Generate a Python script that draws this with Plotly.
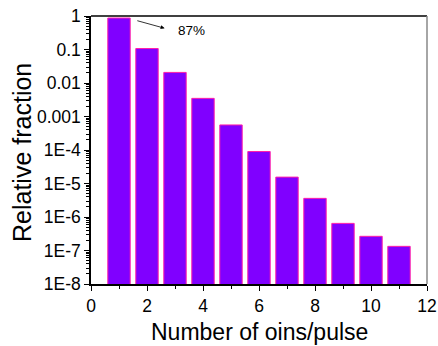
import plotly.graph_objects as go

ions = [1, 2, 3, 4, 5, 6, 7, 8, 9, 10, 11]
fraction = [0.87, 0.107, 0.0207, 0.00348, 5.6e-4, 9.0e-5, 1.55e-5, 3.6e-6, 6.45e-7, 2.65e-7, 1.33e-7]
y_tickvals = [1, 0.1, 0.01, 0.001, 1e-4, 1e-5, 1e-6, 1e-7, 1e-8]
y_ticktext = ["1", "0.1", "0.01", "0.001", "1E-4", "1E-5", "1E-6", "1E-7", "1E-8"]
x_tickvals = [0, 2, 4, 6, 8, 10, 12]
x_title = "Number of oins/pulse"
y_title = "Relative fraction"
note = "87%"

y_minor = [m * 10.0 ** k for k in range(-8, 0) for m in range(2, 10)]

font = "Liberation Sans, Arial, sans-serif"

fig = go.Figure(go.Bar(
    x=ions, y=fraction, width=0.8,
    marker=dict(color="#8000FF", line=dict(color="#FF1FA8", width=1)),
))

fig.update_layout(
    width=438, height=346,
    margin=dict(l=91, r=11, t=16, b=62),
    paper_bgcolor="white", plot_bgcolor="white",
    showlegend=False,
    font=dict(family=font, color="black", size=17),
    xaxis=dict(
        range=[0, 12], tickvals=x_tickvals, ticks="outside", ticklen=5, tickwidth=1,
        tickcolor="black", showline=True, linecolor="black", linewidth=1.5,
        showgrid=False, zeroline=False, automargin=False,
        tickfont=dict(size=17.5),
        minor=dict(tickvals=[1, 3, 5, 7, 9, 11], ticks="outside", ticklen=3, tickcolor="black"),
    ),
    yaxis=dict(
        type="log", range=[-8, 0], tickvals=y_tickvals, ticktext=y_ticktext,
        ticks="outside", ticklen=5, tickwidth=1, tickcolor="black",
        showline=True, linecolor="black", linewidth=1.5, showgrid=False, zeroline=False,
        automargin=False,
        tickfont=dict(size=17.5),
        minor=dict(tickvals=y_minor, ticks="outside", ticklen=3, tickcolor="black"),
    ),
    shapes=[
        dict(type="line", xref="paper", yref="paper", x0=0, x1=1, y0=1, y1=1,
             line=dict(color="black", width=1.5)),
        dict(type="line", xref="paper", yref="paper", x0=1, x1=1, y0=0, y1=1,
             line=dict(color="#888888", width=1.5)),
    ],
    annotations=[
        dict(x=2.63, y=-0.366, ax=1.6, ay=-0.128, xref="x", yref="y", axref="x", ayref="y",
             text="", showarrow=True, arrowhead=2, arrowsize=1, arrowwidth=0.8, arrowcolor="black"),
        dict(x=3.6, y=-0.43, xref="x", yref="y", text=note, showarrow=False,
             font=dict(size=13.5, color="black")),
        dict(x=0, y=0.5, xref="paper", yref="paper", xshift=-69, yshift=-3,
             xanchor="center", yanchor="middle", textangle=-90, text=y_title,
             showarrow=False, font=dict(size=25, color="black")),
        dict(x=0.5, y=0, xref="paper", yref="paper", yshift=-48,
             xanchor="center", yanchor="middle", text=x_title,
             showarrow=False, font=dict(size=23, color="black")),
    ],
)

fig.write_html("out.html", config={"displayModeBar": False},
               post_script="document.body.style.margin='0';document.body.style.overflow='hidden';")
